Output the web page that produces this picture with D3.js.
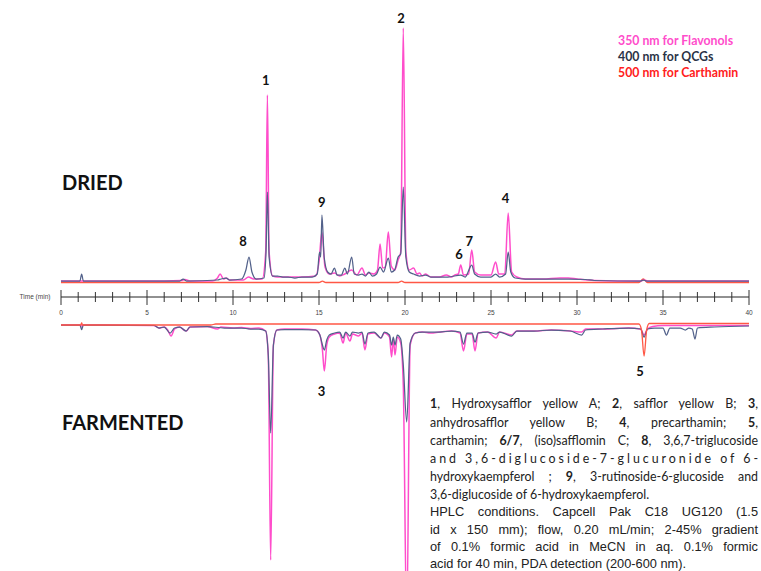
<!DOCTYPE html>
<html>
<head>
<meta charset="utf-8">
<script src="https://cdn.jsdelivr.net/npm/d3@7"></script>
<style>
  body { margin: 0; background: #fff; }
  svg { display: block; }
</style>
</head>
<body>
<div id="chart"></div>
<script>
// retention time axis
const timeTicks = d3.range(0, 41, 5);

// DRIED sample, [time (min), absorbance]
const dried350 = [[0,1],[5,1],[7,1.5],[7.2,2.5],[7.5,1],[8.8,1],[9.1,4],[9.25,8],[9.45,3],[9.6,4],[9.8,2],[10.6,2],[10.9,5],[11.2,3],[11.7,3],[11.9,30],[12,187],[12.1,30],[12.3,6],[12.6,5],[13,5],[13.5,5],[14,5],[14.8,6],[15,20],[15.17,50],[15.35,15],[15.6,8],[15.9,9],[16.2,6],[16.5,8],[16.9,12],[17.2,7],[17.5,14],[17.7,7],[17.9,9],[18.2,8],[18.4,12],[18.55,38],[18.7,14],[18.85,15],[19.03,50],[19.2,16],[19.4,12],[19.6,22],[19.75,30],[19.9,254],[20.05,30],[20.25,12],[20.5,14],[20.7,8],[20.85,9],[21,6],[21.2,8],[21.5,5],[22,5],[22.4,7],[22.7,5],[22.9,7],[23.1,8],[23.24,17],[23.4,7],[23.7,8],[23.88,32],[24.05,10],[24.4,7],[24.7,7],[25,7],[25.27,20],[25.45,8],[25.8,8],[26,69],[26.2,10],[26.5,5],[27,3],[28,3],[29,4],[29.5,4],[30,3],[31,1.5],[33.7,1],[33.9,2],[34.1,1],[40,1]];
const dried400 = [[0,1],[1.1,1],[1.2,8],[1.3,1],[6.9,1],[7.1,3],[7.3,1],[9.1,2],[9.3,3],[9.6,4],[9.8,2],[10.5,3],[10.75,12],[10.93,25],[11.1,10],[11.35,3],[11.8,4],[11.92,30],[12,90],[12.1,25],[12.3,6],[12.6,6],[12.9,5],[13.2,5],[13.6,4],[14,5],[14.6,5],[14.9,8],[15.03,30],[15.1,25],[15.17,67],[15.3,25],[15.5,10],[15.7,8],[15.9,14],[16.05,7],[16.3,7],[16.5,14],[16.65,8],[16.9,25],[17.05,8],[17.3,7],[17.5,8],[17.7,6],[17.9,10],[18.1,6],[18.35,8],[18.55,15],[18.75,10],[19.03,24],[19.2,10],[19.4,12],[19.6,25],[19.75,28],[19.9,95],[20.05,25],[20.25,10],[20.5,8],[20.85,6],[21.2,7],[21.5,5],[22,5],[22.5,5],[23.24,7],[23.5,5],[23.88,17],[24.05,8],[24.4,5],[25,5],[25.27,8],[25.5,5],[25.85,8],[26,30],[26.15,10],[26.4,4],[27,3],[28,3],[29.5,3],[30.5,2.5],[31,1.5],[33.7,1],[33.85,2],[34.05,1],[40,1]];
const dried500 = [[0,-0.5],[15,-0.5],[15.2,0.8],[15.4,-0.5],[19.6,-0.5],[19.8,0.8],[20,-0.5],[33.6,-0.5],[33.85,3],[34.1,-0.5],[40,-0.5]];

// FARMENTED sample, drawn downward
const ferm350 = [[0,0],[1.1,0],[1.2,1],[1.3,0],[5.4,0.5],[5.7,3],[6,2],[6.2,5],[6.4,11],[6.6,4],[6.9,2],[7.15,5],[7.3,6],[7.5,2],[8.5,1.5],[9.1,4],[9.3,2],[10,3],[10.5,2.5],[11,3.5],[11.5,3],[11.9,6],[12.05,30],[12.19,235],[12.35,20],[12.55,5],[13,4],[14,4],[14.8,5],[15.05,10],[15.2,25],[15.31,46],[15.45,20],[15.6,12],[15.9,9],[16.2,8],[16.4,18],[16.55,8],[16.8,16],[16.95,9],[17.3,11],[17.5,8],[17.67,25],[17.85,9],[18.2,8],[18.6,13],[18.8,8],[19.1,12],[19.22,32],[19.32,14],[19.42,30],[19.55,12],[19.75,18],[19.9,60],[20.1,300],[20.3,20],[20.6,8],[21,7],[21.5,8],[22,7],[22.7,6],[23.2,8],[23.4,26],[23.6,9],[23.9,9],[24.07,26],[24.25,8],[24.8,7],[25.3,13],[25.5,7],[26.2,10],[26.5,6],[27.5,6],[28.5,5],[29.6,6],[30.27,7],[30.5,4],[31.5,4],[33,3],[33.7,4],[33.9,10],[34.1,4],[34.4,1.5],[35,0.5],[40,0.5]];
const ferm400 = [[0,0],[1.1,0],[1.2,4.5],[1.3,0],[5.4,0.5],[5.7,3],[6,2],[6.34,8],[6.6,3],[6.9,2],[7.27,6],[7.5,2],[8.5,1.5],[9.5,3],[10,3],[10.5,3],[11,4],[11.5,4],[11.9,6],[12.05,30],[12.19,108],[12.35,20],[12.55,5],[13,4.5],[14,4.5],[14.8,5],[15.05,10],[15.2,20],[15.31,25],[15.45,15],[15.6,10],[15.9,8],[16.2,7],[16.4,13],[16.55,7],[16.8,11],[16.95,7],[17.3,8],[17.5,7],[17.67,19],[17.85,8],[18.2,7],[18.6,13],[18.8,7],[19.1,10],[19.22,20],[19.32,12],[19.42,20],[19.55,10],[19.75,14],[19.9,40],[20.1,97],[20.3,18],[20.6,8],[21,7],[21.5,7],[22,7],[22.7,6],[23.2,7],[23.4,19],[23.6,8],[23.9,8],[24.07,17],[24.25,8],[24.8,7],[25.3,9],[25.5,7],[26.2,11],[26.5,6],[27.5,6],[28.5,5],[29.6,6],[30.27,10],[30.5,5],[31.5,4],[33,3],[33.7,4],[33.9,12],[34.1,4],[34.5,3],[35,3],[35.2,10],[35.4,3],[36,3],[36.3,5],[36.5,3],[36.7,4],[36.86,14],[37,3],[38,2],[40,1]];
const ferm500 = [[0,0],[1.15,0],[1.2,-2],[1.25,0],[8.7,0],[9,-1],[33.6,-1],[33.75,5],[33.9,31],[34.05,5],[34.2,-1.5],[40,-1.5]];

// peak numbers: [label, time, absorbance]
const driedPeaks = [["1",11.9,202],["2",19.77,264],["9",15.16,80],["8",10.58,41],["6",23.14,28],["7",23.74,41],["4",25.85,84]];
const fermPeaks = [["3",15.15,66],["5",33.66,46]];

const legendItems = ["350 nm for Flavonols", "400 nm for QCGs", "500 nm for Carthamin"];

const noteLines = [
  [["1",1],[", Hydroxysafflor yellow A; ",0],["2",1],[", safflor yellow B; ",0],["3",1],[",",0]],
  [["anhydrosafflor yellow B; ",0],["4",1],[", precarthamin; ",0],["5",1],[",",0]],
  [["carthamin; ",0],["6/7",1],[", (iso)safflomin C; ",0],["8",1],[", 3,6,7-triglucoside",0]],
  [["and 3,6-diglucoside-7-glucuronide of 6-",0]],
  [["hydroxykaempferol ; ",0],["9",1],[", 3-rutinoside-6-glucoside and",0]],
  [["3,6-diglucoside of 6-hydroxykaempferol.",0]]
];
const hplcLines = [
  "HPLC conditions. Capcell Pak C18 UG120 (1.5",
  "id x 150 mm); flow, 0.20 mL/min; 2-45% gradient",
  "of 0.1% formic acid in MeCN in aq. 0.1% formic",
  "acid for 40 min, PDA detection (200-600 nm)."
];

const width = 761, height = 571;
const col350 = "#ff4dcb", col400 = "#52618a", col500 = "#ff5745";
const labelFont = "Lato, 'Open Sans', sans-serif";

const svg = d3.select("#chart").append("svg")
  .attr("width", width)
  .attr("height", height);

const x = d3.scaleLinear().domain([0, 40]).range([61, 749]);
const yTop = d3.scaleLinear().domain([0, 260]).range([282, 22]);
const yBot = d3.scaleLinear().domain([0, 260]).range([325, 585]);

svg.append("defs").append("clipPath").attr("id", "clip")
  .append("rect").attr("x", 0).attr("y", 0).attr("width", width).attr("height", height);

function drawTrace(data, y, color, w) {
  const line = d3.line()
    .x(d => x(d[0]))
    .y(d => y(d[1]))
    .curve(d3.curveMonotoneX);
  svg.append("path")
    .datum(data)
    .attr("clip-path", "url(#clip)")
    .attr("fill", "none")
    .attr("stroke", color)
    .attr("stroke-width", w)
    .attr("stroke-linejoin", "round")
    .attr("d", line);
}

drawTrace(dried500, yTop, col500, 1.3);
drawTrace(dried350, yTop, col350, 1.5);
drawTrace(dried400, yTop, col400, 1.25);
drawTrace(ferm350, yBot, col350, 1.5);
drawTrace(ferm400, yBot, col400, 1.25);
drawTrace(ferm500, yBot, col500, 1.3);

// time axis in the middle
const axisY = 297;
svg.append("line")
  .attr("x1", x(0)).attr("x2", x(40))
  .attr("y1", axisY).attr("y2", axisY)
  .attr("stroke", "#222").attr("stroke-width", 1);

svg.selectAll("line.tick")
  .data(d3.range(0, 41))
  .enter()
  .append("line")
  .attr("class", "tick")
  .attr("x1", d => x(d)).attr("x2", d => x(d))
  .attr("y1", d => d % 5 === 0 ? axisY - 7 : axisY - 5)
  .attr("y2", d => d % 5 === 0 ? axisY + 8 : axisY + 5)
  .attr("stroke", "#333")
  .attr("stroke-width", 1);

svg.selectAll("text.ticklabel")
  .data(timeTicks)
  .enter()
  .append("text")
  .attr("class", "ticklabel")
  .attr("x", d => x(d))
  .attr("y", axisY + 16)
  .attr("dy", ".35em")
  .attr("text-anchor", "middle")
  .attr("font-family", "Liberation Sans, Arial, sans-serif")
  .attr("font-size", 6.5)
  .attr("fill", "#444")
  .text(d => d);

svg.append("text")
  .attr("x", 35).attr("y", axisY)
  .attr("dy", ".35em")
  .attr("text-anchor", "middle")
  .attr("font-family", "Liberation Sans, Arial, sans-serif")
  .attr("font-size", 6.5)
  .attr("fill", "#444")
  .text("Time (min)");

// peak numbers
function drawPeakLabels(peaks, y) {
  svg.selectAll(null)
    .data(peaks)
    .enter()
    .append("text")
    .attr("x", d => x(d[1]))
    .attr("y", d => y(d[2]))
    .attr("dy", ".36em")
    .attr("text-anchor", "middle")
    .attr("font-family", labelFont)
    .attr("font-weight", "bold")
    .attr("font-size", 13)
    .attr("fill", "#111")
    .text(d => d[0]);
}
drawPeakLabels(driedPeaks, yTop);
drawPeakLabels(fermPeaks, yBot);

// panel titles
svg.append("text")
  .attr("x", 62).attr("y", 183).attr("dy", ".36em")
  .attr("font-family", labelFont).attr("font-weight", "bold")
  .attr("font-size", 20).attr("fill", "#111")
  .text("DRIED");
svg.append("text")
  .attr("x", 62).attr("y", 423).attr("dy", ".36em")
  .attr("font-family", labelFont).attr("font-weight", "bold")
  .attr("font-size", 20).attr("fill", "#111")
  .text("FARMENTED");

// legend
svg.selectAll("text.legend")
  .data(legendItems)
  .enter()
  .append("text")
  .attr("class", "legend")
  .attr("x", 618)
  .attr("y", (d, i) => 41 + i * 16)
  .attr("dy", ".35em")
  .attr("font-family", labelFont)
  .attr("font-weight", "bold")
  .attr("font-size", 12.3)
  .attr("fill", (d, i) => [col350, "#2b3347", "#ff2020"][i])
  .text(d => d);

// caption, justified to the block width
const noteLeft = 430, noteRight = 758;
function justify(t, mode) {
  const node = t.node();
  const w = node.getComputedTextLength();
  const txt = node.textContent;
  const extra = noteRight - noteLeft - w;
  if (mode === "letter") {
    t.attr("letter-spacing", extra / (txt.length - 1));
  } else {
    const n = (txt.match(/ /g) || []).length;
    if (n) t.attr("word-spacing", extra / n);
  }
}

noteLines.forEach((segs, i) => {
  const t = svg.append("text")
    .attr("x", noteLeft)
    .attr("y", 404 + i * 18.2)
    .attr("dy", ".35em")
    .attr("font-family", labelFont)
    .attr("font-size", 12.4)
    .attr("fill", "#222");
  segs.forEach(s => {
    t.append("tspan")
      .attr("font-weight", s[1] ? "bold" : "normal")
      .text(s[0]);
  });
  if (i === 3) justify(t, "letter");
  else if (i < noteLines.length - 1) justify(t, "word");
});

hplcLines.forEach((line, i) => {
  const t = svg.append("text")
    .attr("x", noteLeft)
    .attr("y", 512 + i * 17.2)
    .attr("dy", ".35em")
    .attr("font-family", "Liberation Sans, Arial, sans-serif")
    .attr("font-size", 12.8)
    .attr("fill", "#222")
    .text(line);
  if (i < hplcLines.length - 1) justify(t, "word");
});
</script>
</body>
</html>
